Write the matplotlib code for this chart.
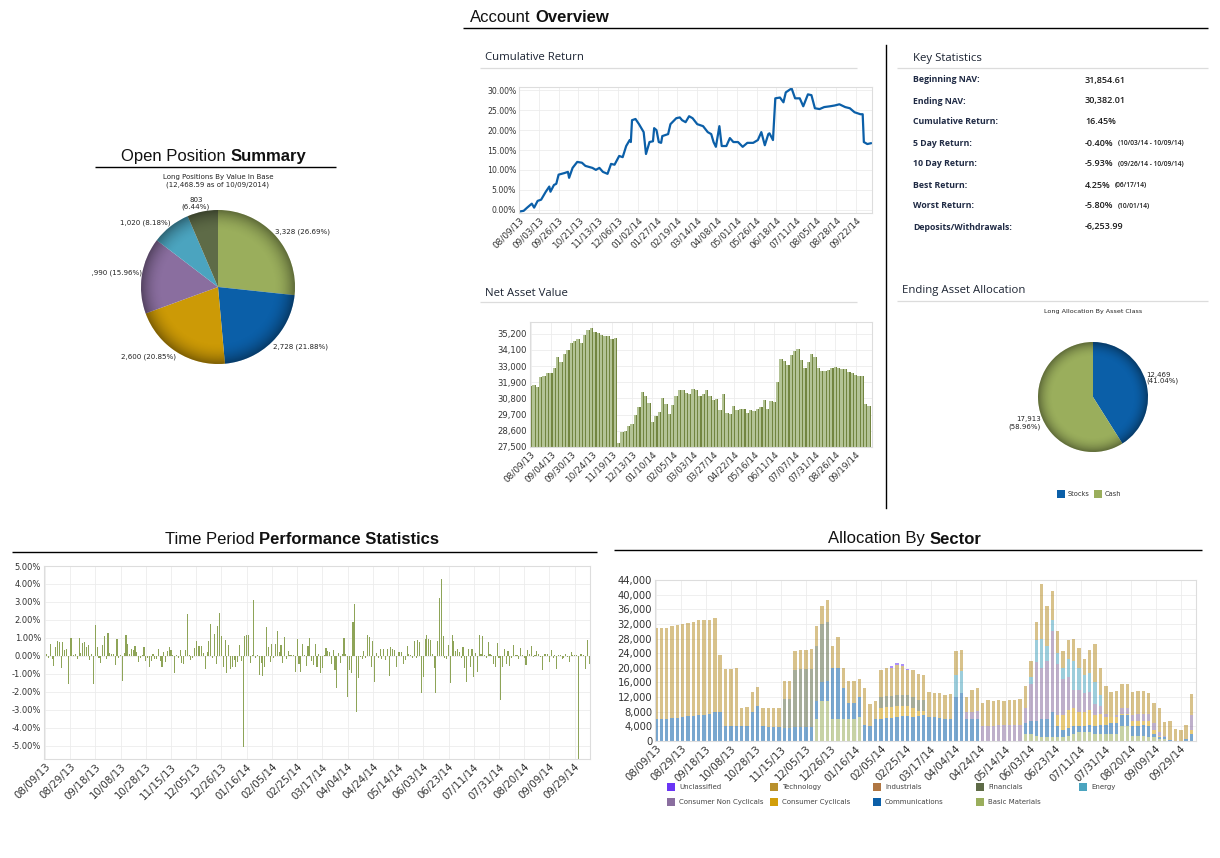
"""Recrea el panel 'Account Overview': rentabilidad acumulada, NAV, estadisticas,
posiciones abiertas, rendimiento diario y asignacion por sector.

Valores leidos a ojo de la imagen de referencia; el eje x va por dia habil
(lunes a viernes, sin 25/12 ni 01/01) desde el 08/09/13 hasta el 10/09/14.
"""
import numpy as np
import pandas as pd
import matplotlib
matplotlib.use("Agg")
import matplotlib.pyplot as plt
from matplotlib.patches import Circle, Rectangle

W, H = 1220, 858

# ---------------- datos ----------------
FECHAS = pd.bdate_range("2013-08-09", "2014-10-09").drop(
    pd.to_datetime(["2013-12-25", "2014-01-01"]))
ETIQ = [d.strftime("%m/%d/%y") for d in FECHAS]

# Cumulative Return (%): dia habil -> valor
CUM_DIA = [0, 4, 7, 11, 13, 16, 19, 23, 26, 27,
           30, 32, 34, 39, 42, 43, 46, 50, 54, 57,
           63, 66, 69, 72, 76, 79, 82, 86, 89, 92,
           95, 96, 97, 100, 103, 106, 107, 109, 112, 115,
           116, 118, 120, 122, 123, 128, 130, 135, 138, 140,
           143, 146, 149, 153, 158, 162, 165, 167, 169, 172,
           174, 178, 181, 184, 188, 192, 196, 201, 205, 208,
           211, 214, 215, 218, 220, 224, 227, 229, 234, 237,
           241, 244, 248, 251, 254, 258, 262, 267, 271, 275,
           280, 284, 288, 293, 295, 296, 299, 302]
CUM_VAL = [-0.5, -0.3, 0.5, 1.5, 0.5, 2.2, 2.5, 4.5, 5.8, 4.5,
           6.2, 6.5, 8.8, 9.2, 9.5, 8.0, 10.5, 12.0, 11.8, 11.0,
           10.5, 10.0, 10.5, 9.5, 9.0, 11.5, 11.3, 13.5, 13.2, 16.0,
           17.5, 17.0, 22.5, 22.8, 21.5, 20.0, 19.5, 14.0, 17.0, 17.2,
           20.5, 20.0, 17.0, 16.8, 18.5, 19.0, 21.5, 23.0, 23.2, 22.5,
           22.0, 23.5, 23.0, 21.5, 21.0, 19.5, 19.0, 17.0, 15.8, 21.0,
           16.0, 16.0, 18.0, 17.0, 17.0, 15.8, 16.8, 16.8, 17.5, 19.5,
           16.2, 19.0, 19.2, 17.5, 28.0, 28.2, 27.0, 29.5, 30.5, 28.0,
           28.0, 26.0, 29.0, 28.8, 25.5, 25.3, 25.8, 26.0, 26.2, 26.5,
           25.8, 25.5, 24.5, 24.0, 24.0, 17.0, 16.5, 16.7]

# Net Asset Value, uno cada 3 dias habiles (dia 0, 3, 6, ...)
NAV_VAL = [31620, 31750, 31600, 32250, 32300, 32500, 32550, 32900, 33600, 33300,
           33850, 34100, 34550, 34700, 34850, 34600, 35150, 35480, 35600, 35300,
           35220, 35150, 35050, 35050, 34850, 34880, 27800, 28500, 28600, 28950,
           29050, 29650, 30250, 31250, 31000, 30500, 29200, 29600, 29900, 30800,
           30450, 29720, 30350, 31000, 31350, 31400, 31200, 31100, 31450, 31350,
           30950, 31100, 31350, 31000, 30700, 30750, 30000, 31100, 29800, 29720,
           30300, 30000, 30050, 30100, 29780, 30000, 29950, 30100, 30250, 30700,
           30100, 30650, 30550, 31900, 33500, 33350, 33100, 33750, 34050, 34150,
           33450, 32850, 33250, 33800, 33650, 32850, 32650, 32700, 32750, 32900,
           32950, 32900, 32820, 32780, 32600, 32530, 32400, 32350, 32300, 30450,
           30300]

# rendimiento diario (%), un valor por dia habil
RET_VAL = [-0.55, 0.1, -0.15, 0.65, -0.2, -0.55, 0.5, 0.8, 0.75, -0.7,
           0.75, 0.3, 0.35, -1.6, 1.0, 1.0, 0.05, 0.1, -0.2, 1.0,
           0.15, 0.7, 0.75, 0.5, 0.6, -0.25, 0.1, -1.55, 1.7, 0.5,
           -0.1, -0.4, 0.6, 1.1, -0.2, 1.25, 0.15, 0.1, 0.1, -0.5,
           0.95, -0.1, 0.05, -1.4, 0.15, 1.15, 0.65, 0.1, 0.4, 0.3,
           0.55, 0.2, -0.35, -0.15, 0.05, 0.5, -0.3, -0.15, -0.65, -0.3,
           0.1, -0.2, -0.2, 0.4, -0.3, -0.65, 0.2, -0.35, 0.25, 0.5,
           0.3, 0.05, -0.95, 0.05, -0.15, 0.3, -0.4, -0.45, 0.3, 2.35,
           0.05, -0.25, -0.1, 0.45, 0.8, 0.55, 0.55, 0.55, 0.15, -0.75,
           0.2, 0.8, 1.75, -0.15, 1.2, -0.45, 1.65, 2.4, 1.1, -0.6,
           0.9, -0.95, 0.6, -0.75, -0.6, -0.25, -0.6, -0.35, 0.6, -0.3,
           -5.1, 1.1, 1.15, 1.15, -0.4, 0.05, 3.1, -0.1, 0.05, -1.05,
           -0.4, -1.15, -0.6, 1.6, 0.5, -0.35, 0.65, -0.1, 0.65, 1.4,
           0.2, 0.6, -0.4, 1.05, -0.2, 0.25, 0.05, 0.05, 0.05, -0.9,
           0.95, -0.45, -0.9, 0.65, 0.05, -0.55, 0.55, 1.0, -0.3, -0.5,
           0.65, -0.6, 0.1, -0.95, -0.7, 0.05, 0.45, 0.25, 0.2, -0.45,
           0.3, -0.8, -1.8, 0.15, -0.4, 0.1, 1.0, 0.1, -2.3, -0.8,
           -0.95, 1.9, 2.9, -3.15, -1.25, -0.05, -0.2, 0.25, -0.15, 1.15,
           1.05, -0.6, 0.8, -1.45, 0.15, -0.15, 0.35, -0.2, 0.4, -0.25,
           0.35, -1.15, 0.5, 0.35, 0.3, -0.6, 0.2, 0.2, 0.2, -0.45,
           -0.25, 0.55, 0.1, 0.05, -0.1, 0.85, -0.1, 0.9, 0.75, -2.1,
           -1.2, 0.95, 1.15, 0.95, 0.9, 0.1, -0.7, -2.1, 0.8, 3.2,
           4.25, 1.1, -0.15, -0.2, 0.6, -1.5, 1.15, 0.8, 0.25, 0.4,
           0.2, -0.15, 0.5, -0.7, -1.45, 0.4, -0.6, 0.4, -1.2, 0.15,
           -0.9, 1.15, 0.1, 1.1, 0.05, -0.1, 0.75, 0.1, 0.05, -0.45,
           -0.6, 0.7, -0.1, -2.45, -0.6, 0.4, -0.45, 0.25, -0.55, -0.15,
           0.6, 0.05, 0.05, -0.2, 0.45, 0.05, -0.1, -0.5, 0.3, 0.1,
           0.55, -0.05, 0.05, 0.25, 0.1, -0.05, -0.8, 0.1, 0.1, 0.1,
           -0.35, 0.3, -0.15, 0.05, -0.75, 0.05, 0.05, -0.2, -0.1, 0.1,
           -0.05, -0.35, 0.2, 0.05, 0.05, 0.05, -5.8, 0.1, 0.1, 0.05,
           -0.75, 0.9, -0.45]

# Open Position Summary
POS_VAL = [3328, 2728, 2600, 1990, 1020, 803]
POS_ETIQ = ["3,328 (26.69%)", "2,728 (21.88%)", "2,600 (20.85%)",
            "1,990 (15.96%)", "1,020 (8.18%)", "803\n(6.44%)"]
POS_COL = ["#9aae5c", "#0b5fa8", "#cc9a06", "#8a6e9f", "#4ba4bf", "#5e6b47"]

# Ending Asset Allocation
ACT_NOMBRE = ["Stocks", "Cash"]
ACT_VAL = [12469, 17913]
ACT_ETIQ = ["12,469\n(41.04%)", "17,913\n(58.96%)"]
ACT_COL = ["#0b5fa8", "#9aae5c"]

# Key Statistics
EST_ETIQ = ["Beginning NAV:", "Ending NAV:", "Cumulative Return:", "5 Day Return:",
            "10 Day Return:", "Best Return:", "Worst Return:", "Deposits/Withdrawals:"]
EST_VALOR = ["31,854.61", "30,382.01", "16.45%", "-0.40%", "-5.93%", "4.25%",
             "-5.80%", "-6,253.99"]
EST_NOTA = ["", "", "", "(10/03/14 - 10/09/14)", "(09/26/14 - 10/09/14)",
            "(06/17/14)", "(10/01/14)", ""]

# Allocation By Sector (miles), uno cada 3 dias habiles
SEC_BASIC = ([0] * 30 + [6, 11, 11, 6, 6, 6, 6, 6, 6.5] + [0] * 30 +
             [2, 2, 1.5, 1, 1, 1, 1, 1, 1.5, 2, 2.5, 2.5, 2.5, 2, 2, 2, 2, 2,
              4, 4, 1.5, 1.5, 1.5, 1, 1, 0.5, 0.5, 0, 0, 0, 0, 0])
SEC_COMM = [6.0, 6.0, 6.0, 6.2, 6.3, 6.5, 6.7, 6.8, 7.0, 7.2,
            7.4, 7.8, 8.0, 4.0, 4.0, 4.0, 4.0, 4.2, 8.0, 9.5,
            4.0, 3.8, 3.8, 3.8, 3.5, 3.5, 3.7, 3.8, 3.8, 3.8,
            5, 5, 5.5, 14, 14, 8.5, 4.5, 4.5, 5.5, 4.3,
            4, 6, 6, 6.2, 6.3, 6.5, 6.7, 6.7, 6.5, 6.8,
            7, 6.5, 6.5, 6.2, 6.0, 6.0, 12, 13, 6, 6,
            6, 0, 0, 0, 0, 0, 0, 0, 0, 3,
            3.5, 4, 5, 5, 7, 3, 2, 2, 2, 1.5,
            1.5, 2, 2, 2.5, 2.5, 3, 3, 3, 3, 2.5,
            2.5, 3, 3, 1, 0.5, 0.5, 0.3, 0, 0, 0.5,
            2]
SEC_CYC = ([0] * 42 + [3, 3, 3, 3, 3, 3, 2.5, 1.5, 1.2] + [0] * 24 +
           [3, 4, 5, 5, 4, 4, 4, 3, 3, 2, 1.5, 1.5, 0.5, 0.5, 1.5, 1.5, 1, 1.5,
            1, 0.5, 0, 0, 0, 0, 0, 1])
SEC_NONCYC = ([0] * 58 + [2, 2, 2.2, 4, 4, 4.2, 4.3, 4.3, 4.4, 4.4, 4.4] +
              [4, 10, 16, 14, 16, 22, 14, 10, 9, 5, 6, 5, 5, 3, 2, 1, 0, 0.5,
               1.5, 1.5, 1.5, 2, 2, 2, 2, 1, 0.5, 0, 0, 0, 0, 4])
SEC_ENERGY = ([0] * 56 + [6, 6] + [0] * 12 +
              [2, 6, 8, 4, 3, 3, 3, 5, 8, 6, 5, 5, 6, 3] + [0] * 17)
SEC_FIN = [0] * 24 + [8, 8, 15.8, 15.8, 15.8, 16, 15, 16, 16] + [0] * 9 + [3] * 9 + [0] * 50
SEC_TECH = [25, 25, 25, 25.3, 25.5, 25.5, 25.5, 25.7, 26, 26,
            25.8, 25.8, 15.5, 15.7, 15.8, 15.9, 5.0, 5.1, 5.5, 5.3,
            5.0, 5.2, 5.2, 5.2, 5.0, 4.9, 5.0, 5.2, 5.4, 5.4,
            5.5, 5, 6, 6, 8.5, 5.5, 6, 6, 5, 10.2,
            6, 5, 7.5, 7.8, 7.7, 8.2, 7.8, 6.8, 7.3, 6.9,
            6.8, 6.8, 6.5, 6.8, 6.5, 6.8, 6.5, 6, 4, 6,
            6.4, 6.5, 7.2, 6.8, 6.9, 6.7, 6.9, 6.8, 7.1, 6,
            4.5, 5, 15, 11, 8, 6, 4.5, 5, 6, 5.5,
            4.5, 6.5, 10.5, 7.5, 7.5, 7, 6.7, 6.5, 6.5, 6.5,
            6.3, 6.3, 5.5, 5.5, 6.5, 3.7, 5.2, 3.3, 3.0, 4,
            5.8]
SEC_UNCL = [0] * 44 + [0.5, 0.5, 0.5, 0.3, 0.2] + [0] * 52

SEC_NOMBRES = ["Unclassified", "Technology", "Industrials", "Financials", "Energy",
               "Consumer Non Cyclicals", "Consumer Cyclicals", "Communications",
               "Basic Materials"]
SEC_COL = {"Unclassified": "#6a35f5", "Technology": "#b8902c", "Industrials": "#b07642",
           "Financials": "#5e6b47", "Energy": "#4ba4bf", "Consumer Non Cyclicals": "#8a6e9f",
           "Consumer Cyclicals": "#d29e0a", "Communications": "#0b5fa8",
           "Basic Materials": "#9aae5c"}
# orden de apilado, de abajo hacia arriba
SEC_PILA = [("Basic Materials", SEC_BASIC), ("Communications", SEC_COMM),
            ("Consumer Cyclicals", SEC_CYC), ("Consumer Non Cyclicals", SEC_NONCYC),
            ("Energy", SEC_ENERGY), ("Financials", SEC_FIN),
            ("Technology", SEC_TECH), ("Unclassified", SEC_UNCL)]

# ---------------- figura ----------------
fig = plt.figure(figsize=(W / 100, H / 100), dpi=100)
fig.patch.set_facecolor("white")


def ejes(x0, y0, x1, y1):
    """Crea unos ejes a partir de coordenadas en pixeles (origen arriba a la izquierda)."""
    return fig.add_axes([x0 / W, 1 - y1 / H, (x1 - x0) / W, (y1 - y0) / H])


fondo = ejes(0, 0, W, H)
fondo.set_xlim(0, W)
fondo.set_ylim(H, 0)
fondo.axis("off")
rend = fig.canvas.get_renderer()

TIT = "Liberation Sans"
SUB = "Open Sans"


def titulo(x, y, a, b, size=12, centro=True):
    t1 = fondo.text(0, y, a, fontsize=size, family=TIT, va="center", color="#111111")
    t2 = fondo.text(0, y, b, fontsize=size, family=TIT, va="center", weight="bold",
                    color="#111111")
    w1 = t1.get_window_extent(rend).width
    w2 = t2.get_window_extent(rend).width
    hueco = 0.28 * size * 100 / 72
    x0 = x - (w1 + hueco + w2) / 2 if centro else x
    t1.set_x(x0)
    t2.set_x(x0 + w1 + hueco)


def linea(x0, x1, y, color="black", lw=1.0):
    fondo.plot([x0, x1], [y, y], color=color, lw=lw, solid_capstyle="butt")


def subtitulo(x, y, s, x0, x1, yl):
    fondo.text(x, y, s, fontsize=8.2, family=SUB, va="center", color="#1c2433")
    linea(x0, x1, yl, color="#dcdcdc", lw=0.9)


def estilo(ax, size=5.6):
    for s in ax.spines.values():
        s.set_color("#dddddd")
        s.set_linewidth(0.8)
    ax.grid(True, color="#ececec", lw=0.6)
    ax.set_axisbelow(True)
    ax.tick_params(labelsize=size, colors="#333333", length=0, pad=2)


def fechas_x(ax, paso, size):
    pos = list(range(0, 300, paso))
    ax.set_xticks(pos)
    ax.set_xticklabels([ETIQ[p] for p in pos], rotation=45, ha="right",
                       rotation_mode="anchor", fontsize=size)


def sombra(ax):
    """Oscurece el borde de la tarta para imitar el relieve."""
    n = 240
    g = np.linspace(-1, 1, n)
    xx, yy = np.meshgrid(g, g)
    rr = np.hypot(xx, yy)
    img = np.zeros((n, n, 4))
    img[..., 3] = np.clip((rr - 0.72) / 0.28, 0, 1) ** 2 * 0.38
    im = ax.imshow(img, extent=(-1, 1, -1, 1), origin="lower", zorder=3,
                   interpolation="bilinear")
    im.set_clip_path(Circle((0, 0), 1, transform=ax.transData))


# ---- encabezados y separadores ----
titulo(470, 17, "Account", "Overview", centro=False)
linea(463, 1208, 28)
fondo.plot([886, 886], [45, 508], color="black", lw=1.0)
subtitulo(485, 58, "Cumulative Return", 480, 857, 68)
subtitulo(485, 293, "Net Asset Value", 480, 857, 302)
subtitulo(913, 58, "Key Statistics", 897, 1208, 68)
subtitulo(902, 291, "Ending Asset Allocation", 897, 1208, 301)
titulo(214, 157, "Open Position", "Summary")
linea(95, 336, 167)
titulo(302, 539, "Time Period", "Performance Statistics")
linea(12, 597, 552)
titulo(905, 539, "Allocation By", "Sector")
linea(614, 1202, 550)

# ---- Cumulative Return ----
ax = ejes(519, 87, 872, 213)
estilo(ax)
ax.plot(CUM_DIA, CUM_VAL, color="#0b5fa8", lw=1.6, solid_joinstyle="round")
ax.set_xlim(0, 303)
ax.set_ylim(-0.85, 30.85)
ax.set_yticks(np.arange(0, 31, 5))
ax.set_yticklabels([f"{v:.2f}%" for v in np.arange(0, 31, 5)])
fechas_x(ax, 17, 6.4)

# ---- Net Asset Value ----
ax = ejes(530, 322, 872, 447)
estilo(ax, 6.1)
dias_nav = np.arange(0, 303, 3)
ax.bar(dias_nav - 0.5, np.array(NAV_VAL) - 27500, bottom=27500, width=2.0,
       color="#b3c395", lw=0)
ax.bar(dias_nav + 1.0, np.array(NAV_VAL) - 27500, bottom=27500, width=1.0,
       color="#728540", lw=0)
ax.set_xlim(-0.5, 302.5)
ax.set_ylim(27500, 36000)
ticks_nav = np.arange(27500, 35300, 1100)
ax.set_yticks(ticks_nav)
ax.set_yticklabels([f"{v:,}" for v in ticks_nav])
fechas_x(ax, 18, 6.4)

# ---- Key Statistics ----
for i, (et, val, nota) in enumerate(zip(EST_ETIQ, EST_VALOR, EST_NOTA)):
    y = 80 + 21 * i
    fondo.text(913, y, et, fontsize=6.3, family=SUB, weight="bold",
               va="center", color="#1f2a44")
    tv = fondo.text(1085, y, val, fontsize=6.5, family=SUB, weight="semibold",
                    va="center", color="#1a1a1a")
    if nota:
        wv = tv.get_window_extent(rend).width
        fondo.text(1085 + wv + 4, y + 0.5, nota, fontsize=4.8, family=SUB,
                   weight="semibold", va="center", color="#1a1a1a")

# ---- Open Position Summary ----
fondo.text(218, 181, "Long Positions By Value In Base\n(12,468.59 as of 10/09/2014)",
           fontsize=5, ha="center", va="center", color="#222222", linespacing=1.15)
cx, cy, r = 218, 287, 77
ax = ejes(91, 190, 360, 380)
ax.pie(POS_VAL, colors=POS_COL, startangle=90, counterclock=False, radius=1,
       wedgeprops=dict(lw=0))
sombra(ax)
ax.set_aspect("auto")
ax.set_xlim((91 - cx) / r, (360 - cx) / r)
ax.set_ylim((cy - 380) / r, (cy - 190) / r)
ax.axis("off")
pos_txt = [((275, 232), "left"), ((273, 347), "left"), ((176, 357), "right"),
           ((142, 273), "right"), ((171, 223), "right"), ((196, 204), "center")]
for ((px, py), ha), s in zip(pos_txt, POS_ETIQ):
    ax.text((px - cx) / r, (cy - py) / r, s, fontsize=5.1, ha=ha, va="center",
            color="#222222", clip_on=True, linespacing=1.1)

# ---- Ending Asset Allocation ----
fondo.text(1093, 311, "Long Allocation By Asset Class", fontsize=4.6, ha="center",
           va="center", color="#222222")
cx, cy, r = 1093, 397, 55
ax = ejes(1000, 330, 1200, 465)
ax.pie(ACT_VAL, colors=ACT_COL, startangle=90, counterclock=False, radius=1,
       wedgeprops=dict(lw=0))
sombra(ax)
ax.set_aspect("auto")
ax.set_xlim((1000 - cx) / r, (1200 - cx) / r)
ax.set_ylim((cy - 465) / r, (cy - 330) / r)
ax.axis("off")
fondo.text(1146, 378, ACT_ETIQ[0], fontsize=5, ha="left", va="center",
           color="#222222", linespacing=1.1)
fondo.text(1041, 423, ACT_ETIQ[1], fontsize=5, ha="right", va="center",
           color="#222222", linespacing=1.1)
for (x, nombre), col in zip([(1057, ACT_NOMBRE[0]), (1094, ACT_NOMBRE[1])], ACT_COL):
    fondo.add_patch(Rectangle((x, 490), 8, 8, color=col, lw=0))
    fondo.text(x + 11, 494.5, nombre, fontsize=4.8, va="center", color="#333333")

# ---- Time Period Performance Statistics ----
ax = ejes(44, 566, 590, 759)
estilo(ax, 6)
ax.bar(np.arange(len(RET_VAL)), RET_VAL, width=0.6, color="#8ea458", lw=0)
ax.set_xlim(-0.5, 302.5)
ax.set_ylim(-5.75, 5.0)
ticks_ret = np.arange(-5, 6, 1)
ax.set_yticks(ticks_ret)
ax.set_yticklabels([f"{v:.2f}%" for v in ticks_ret])
fechas_x(ax, 14, 7.4)

# ---- Allocation By Sector ----
ax = ejes(655, 580, 1196, 741)
estilo(ax, 7.2)
dias_sec = np.arange(0, 303, 3)
base = np.zeros(len(dias_sec))
for nombre, valores in SEC_PILA:
    v = np.array(valores, dtype=float)
    ax.bar(dias_sec, v, bottom=base, width=1.9, color=SEC_COL[nombre],
           alpha=0.55, lw=0)
    base = base + v
ax.set_xlim(-0.5, 302.5)
ax.set_ylim(0, 44)
ticks_sec = np.arange(0, 45, 4)
ax.set_yticks(ticks_sec)
ax.set_yticklabels([f"{int(v * 1000):,}" for v in ticks_sec])
fechas_x(ax, 14, 7.4)

# leyenda de sectores (dos filas, cinco columnas)
cols_x = [667, 770, 873, 976, 1079]
for i, nombre in enumerate(SEC_NOMBRES):
    x = cols_x[i % 5]
    y = 787 if i < 5 else 802
    fondo.add_patch(Rectangle((x, y - 4), 8, 8, color=SEC_COL[nombre], lw=0))
    fondo.text(x + 12, y, nombre, fontsize=5, va="center", color="#444444")

fig.savefig("out.png", dpi=100, facecolor="white")
